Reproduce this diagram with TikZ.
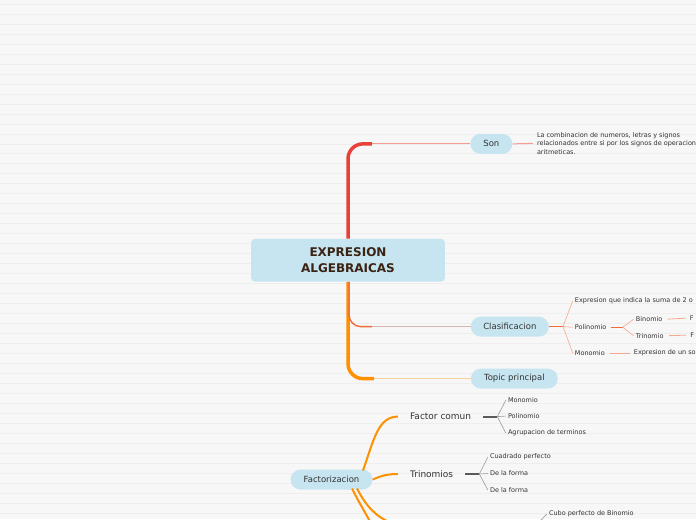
\documentclass[tikz,border=0pt]{standalone}
\usepackage{fontspec}
\setmainfont{DejaVu Sans}
\usetikzlibrary{positioning}

\definecolor{bgpaper}{HTML}{F7F7F7}
\definecolor{stripe}{HTML}{EEEEEE}
\definecolor{topicblue}{HTML}{C6E5F0}
\definecolor{roottext}{HTML}{3B2314}
\definecolor{inktext}{HTML}{333333}
\definecolor{trunkred}{HTML}{E8413A}
\definecolor{trunkorange}{HTML}{FF9000}
\definecolor{redorange}{HTML}{F06A3A}
\definecolor{salmon}{HTML}{F5A88C}
\definecolor{pinkline}{HTML}{F29C92}
\definecolor{greyline}{HTML}{D4B8AE}
\definecolor{paleorange}{HTML}{F7CF9A}
\definecolor{darkstem}{HTML}{5A5A5A}
\definecolor{fanline}{HTML}{9A9A9A}

\begin{document}
\begin{tikzpicture}[
      x=1pt, y=-1pt,
      root/.style={fill=topicblue, rounded corners=4pt, align=center, text=roottext, font=\fontsize{12}{16}\selectfont\bfseries, minimum width=194pt, minimum height=43pt, inner sep=0pt},
      topic/.style={fill=topicblue, rounded corners=10pt, text=inktext, font=\fontsize{8.5}{10}\selectfont, minimum height=20pt, inner sep=0pt},
      sub/.style={text=inktext, font=\fontsize{9}{11}\selectfont, anchor=west, inner sep=0pt},
      leaf/.style={text=inktext, font=\fontsize{6.5}{8.6}\selectfont, anchor=west, inner sep=0pt, align=left},
      trunk/.style={line width=3.5pt, rounded corners=15pt},
      twig/.style={line width=1pt},
      bough/.style={trunkorange, line width=2pt},
      stem/.style={darkstem, line width=2pt},
      fan/.style={line width=0.6pt}
  ]
      % paper
      \fill[bgpaper] (0,0) rectangle (696,520);
      \foreach \yy in {4,14,...,514}
          \draw[stripe, line width=0.7pt] (0,\yy) -- (696,\yy);
      \useasboundingbox (0,0) rectangle (696,520);

      \node[root] (expr) at (348,260.5) {EXPRESION\\ALGEBRAICAS};
      \node[topic, minimum width=42pt] (son) at (491.5,144) {Son};
      \node[topic, minimum width=78pt] (clas) at (510,327) {Clasificacion};
      \node[topic, minimum width=87pt] (topic) at (514.5,379) {Topic principal};
      \node[topic, minimum width=82pt] (fact) at (331.5,480) {Factorizacion};

      \node[leaf] (def) at (537,143.5) {La combinacion de numeros, letras y signos\\relacionados entre si por los signos de operacion\\aritmeticas.};

      \node[leaf] (suma) at (575,301) {Expresion que indica la suma de 2 o};
      \node[leaf] (polin) at (575,327.5) {Polinomio};
      \node[leaf] (monom) at (575,353.5) {Monomio};
      \node[leaf] (binom) at (636,319.5) {Binomio};
      \node[leaf] (trinom) at (636,336) {Trinomio};
      \node[leaf] (binf) at (690,318.5) {F};
      \node[leaf] (trinf) at (690.5,335.5) {F};
      \node[leaf] (unso) at (634,353.5) {Expresion de un so};

      \node[sub] (fcom) at (410,417) {Factor comun};
      \node[sub] (trin) at (410,474.5) {Trinomios};
      \node[leaf] (fmono) at (508,400.5) {Monomio};
      \node[leaf] (fpoli) at (508,416.5) {Polinomio};
      \node[leaf] (fagru) at (508,433.5) {Agrupacion de terminos};
      \node[leaf] (cuad) at (490,457.5) {Cuadrado perfecto};
      \node[leaf] (forma1) at (490,474) {De la forma};
      \node[leaf] (forma2) at (490,490.5) {De la forma};
      \node[leaf] (cubo) at (549,514.5) {Cubo perfecto de Binomio};

      % main branches
      \coordinate (sonbend) at (372,144);
      \coordinate (clasbend) at (372,327);
      \coordinate (topbend) at (374,379);
      \draw[trunk, trunkred] (expr.north) |- (sonbend);
      \draw[pinkline, twig] (sonbend) -- (son.west);
      \draw[pinkline, twig] (son.east) -- ([xshift=-4pt]def.west);
      \draw[trunk, trunkorange] (expr.south) |- (topbend);
      \draw[redorange, line width=1.4pt, rounded corners=12pt] ([xshift=1pt]expr.south) |- (clasbend);
      \draw[greyline, twig] (clasbend) -- (clas.west);
      \draw[paleorange, twig] (topbend) -- (topic.west);

      % Clasificacion
      \draw[redorange, line width=1pt] (clas.east) -- ++(14,0) coordinate (cj);
      \draw[salmon, fan] (cj) -- ([xshift=-2pt]suma.west);
      \draw[salmon, fan] (cj) -- ([xshift=-2pt]polin.west);
      \draw[salmon, fan] (cj) -- ([xshift=-2pt]monom.west);
      \draw[redorange, line width=1pt] ([xshift=4pt]polin.east) -- ++(12,0) coordinate (pj);
      \draw[salmon, fan] (pj) -- ([xshift=-2pt]binom.west);
      \draw[salmon, fan] (pj) -- ([xshift=-2pt]trinom.west);
      \draw[salmon, line width=0.8pt] ([xshift=5pt]binom.east) -- ([xshift=-4pt]binf.west);
      \draw[salmon, line width=0.8pt] ([xshift=5pt]trinom.east) -- ([xshift=-4pt]trinf.west);
      \draw[salmon, line width=0.8pt] ([xshift=5pt]monom.east) -- ([xshift=-4pt]unso.west);

      % Factorizacion
      \draw[bough] (363,471) .. controls (374,440) and (378,417) .. ([xshift=-12pt]fcom.west);
      \draw[bough] (fact.east) .. controls (384,475) and (390,474.5) .. ([xshift=-12pt]trin.west);
      \draw[bough] (352,489) .. controls (360,505) and (366,514) .. (372,526);
      \draw[bough] (357,489) .. controls (366,506) and (374,516) .. (392,524);

      \draw[stem] ([xshift=12pt]fcom.east) -- ++(14,0) coordinate (fj);
      \draw[fanline, fan] (fj) -- ([xshift=-2pt]fmono.west);
      \draw[fanline, fan] (fj) -- ([xshift=-2pt]fpoli.west);
      \draw[fanline, fan] (fj) -- ([xshift=-2pt]fagru.west);
      \draw[stem] ([xshift=12pt]trin.east) -- ++(14,0) coordinate (tj);
      \draw[fanline, fan] (tj) -- ([xshift=-2pt]cuad.west);
      \draw[fanline, fan] (tj) -- ([xshift=-2pt]forma1.west);
      \draw[fanline, fan] (tj) -- ([xshift=-2pt]forma2.west);
      \coordinate (cj2) at (539,523);
      \draw[fanline, fan] (cj2) -- ([xshift=-2pt]cubo.west);
  \end{tikzpicture}
\end{document}
